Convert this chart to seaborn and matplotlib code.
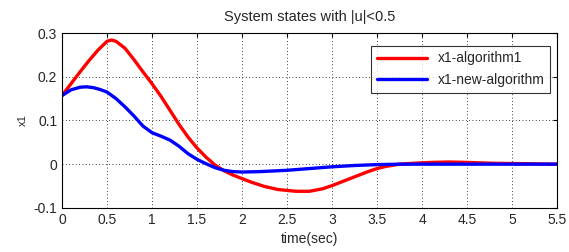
import matplotlib
matplotlib.use("Agg")
import matplotlib.pyplot as plt
import pandas as pd
import seaborn as sns

# Datos
t_rojo = [0.0, 0.1, 0.2, 0.3, 0.4, 0.5, 0.55, 0.6, 0.7, 0.8, 0.9, 1.0, 1.1,
          1.2, 1.3, 1.4, 1.5, 1.6, 1.7, 1.8, 1.9, 2.0, 2.1, 2.25, 2.4, 2.6,
          2.75, 2.9, 3.0, 3.1, 3.25, 3.4, 3.5, 3.6, 3.75, 3.9, 4.1, 4.3, 4.5,
          4.8, 5.2, 5.5]
x1_alg1 = [0.157, 0.184, 0.211, 0.237, 0.261, 0.281, 0.284, 0.281, 0.265,
           0.239, 0.211, 0.184, 0.155, 0.123, 0.091, 0.062, 0.037, 0.016,
           -0.002, -0.015, -0.025, -0.033, -0.041, -0.051, -0.058, -0.062,
           -0.062, -0.056, -0.049, -0.041, -0.029, -0.017, -0.010, -0.005,
           0.0, 0.002, 0.004, 0.005, 0.004, 0.002, 0.001, 0.0]

t_azul = [0.0, 0.1, 0.2, 0.27, 0.35, 0.42, 0.5, 0.6, 0.7, 0.8, 0.9, 1.0, 1.1,
          1.2, 1.3, 1.4, 1.5, 1.6, 1.7, 1.8, 1.9, 2.0, 2.2, 2.5, 2.75, 3.0,
          3.25, 3.5, 3.75, 4.0, 4.5, 5.0, 5.5]
x1_nuevo = [0.157, 0.170, 0.176, 0.177, 0.175, 0.171, 0.165, 0.150, 0.131,
            0.110, 0.087, 0.072, 0.064, 0.055, 0.041, 0.024, 0.011, 0.001,
            -0.008, -0.014, -0.017, -0.018, -0.017, -0.014, -0.010, -0.006,
            -0.003, -0.001, 0.0, 0.0, 0.0, 0.0, 0.0]

df_rojo = pd.DataFrame({"t": t_rojo, "x1": x1_alg1})
df_azul = pd.DataFrame({"t": t_azul, "x1": x1_nuevo})

sns.set_style("white")
plt.rcParams["font.family"] = ["Liberation Sans", "DejaVu Sans"]
plt.rcParams["font.size"] = 9

fig, ax = plt.subplots(figsize=(5.69, 2.52), dpi=100)
fig.subplots_adjust(left=0.109, right=0.979, top=0.869, bottom=0.175)

sns.lineplot(data=df_rojo, x="t", y="x1", color="#ff0000", linewidth=2.4,
             label="x1-algorithm1", ax=ax)
sns.lineplot(data=df_azul, x="t", y="x1", color="#0000ff", linewidth=2.4,
             label="x1-new-algorithm", ax=ax)

ax.set_xlim(0, 5.5)
ax.set_ylim(-0.1, 0.3)
ax.set_xticks([0, 0.5, 1, 1.5, 2, 2.5, 3, 3.5, 4, 4.5, 5, 5.5])
ax.set_xticklabels(["0", "0.5", "1", "1.5", "2", "2.5", "3", "3.5", "4",
                    "4.5", "5", "5.5"])
ax.set_yticks([-0.1, 0, 0.1, 0.2, 0.3])
ax.set_yticklabels(["-0.1", "0", "0.1", "0.2", "0.3"])
ax.grid(True, color="black", linestyle=(0, (1, 3)), linewidth=0.6)
ax.tick_params(direction="in", length=3, top=True, right=True, labelsize=10,
               color="black")
for spine in ax.spines.values():
    spine.set_color("black")
    spine.set_linewidth(0.8)

ax.set_title("System states with |u|<0.5", fontsize=10.5, pad=9)
ax.set_xlabel("time(sec)", fontsize=10, labelpad=4)
ax.set_ylabel("x1", fontsize=8)

leg = ax.legend(loc="upper right", bbox_to_anchor=(0.995, 0.95), fontsize=10,
                frameon=True, fancybox=False, handlelength=3.6,
                borderaxespad=0.3, labelspacing=0.55)
leg.get_frame().set_edgecolor("black")
leg.get_frame().set_linewidth(0.8)

plt.savefig("out.png", dpi=100)
